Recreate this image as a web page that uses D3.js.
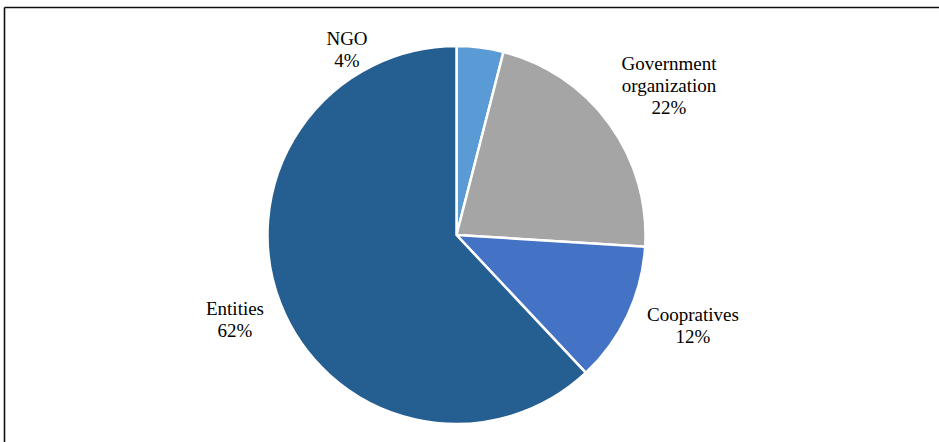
<!DOCTYPE html>
<html>
<head>
<meta charset="utf-8">
<script src="https://cdn.jsdelivr.net/npm/d3@7"></script>
<style>
  html, body { margin: 0; padding: 0; background: #fff; }
  svg { display: block; }
</style>
</head>
<body>
<svg id="chart" width="939" height="442"></svg>
<script>
// Share of organisations by type (percent)
const categories = ["NGO", "Government organization", "Coopratives", "Entities"];
const values = [4, 22, 12, 62];
const colors = ["#5B9BD5", "#A5A5A5", "#4472C4", "#255E91"];

// Label lines and anchor positions (in chart pixels) for each slice
const labelLines = [["NGO", "4%"], ["Government", "organization", "22%"], ["Coopratives", "12%"], ["Entities", "62%"]];
const labelPos = [[347, 45], [669, 70], [693, 321], [235, 315]];

const svg = d3.select("#chart");
const width = 939, height = 442;
const cx = 456.5, cy = 235, radius = 189;
const serif = "'Liberation Serif', 'Times New Roman', Tinos, 'DejaVu Serif', serif";

// frame: top and left edges
svg.append("line").attr("x1", 4.5).attr("y1", 7.5).attr("x2", width).attr("y2", 7.5)
  .attr("stroke", "#111").attr("stroke-width", 1.6);
svg.append("line").attr("x1", 4.5).attr("y1", 7.5).attr("x2", 4.5).attr("y2", height)
  .attr("stroke", "#111").attr("stroke-width", 1.6);

const pie = d3.pie().sort(null).value(d => d);
const arc = d3.arc().innerRadius(0).outerRadius(radius);
const color = d3.scaleOrdinal().domain(categories).range(colors);

const g = svg.append("g").attr("transform", `translate(${cx},${cy})`);
g.selectAll("path")
  .data(pie(values))
  .join("path")
  .attr("d", arc)
  .attr("fill", (d, i) => color(categories[i]))
  .attr("stroke", "#fff")
  .attr("stroke-width", 2.5)
  .attr("stroke-linejoin", "round");

const labels = svg.append("g");
labelLines.forEach((lines, i) => {
  const t = labels.append("text")
    .attr("text-anchor", "middle")
    .attr("font-family", serif)
    .attr("font-size", 19)
    .attr("fill", "#000")
    .attr("x", labelPos[i][0])
    .attr("y", labelPos[i][1]);
  lines.forEach((s, j) => {
    t.append("tspan").attr("x", labelPos[i][0]).attr("dy", j === 0 ? 0 : 22).text(s);
  });
});
</script>
</body>
</html>
